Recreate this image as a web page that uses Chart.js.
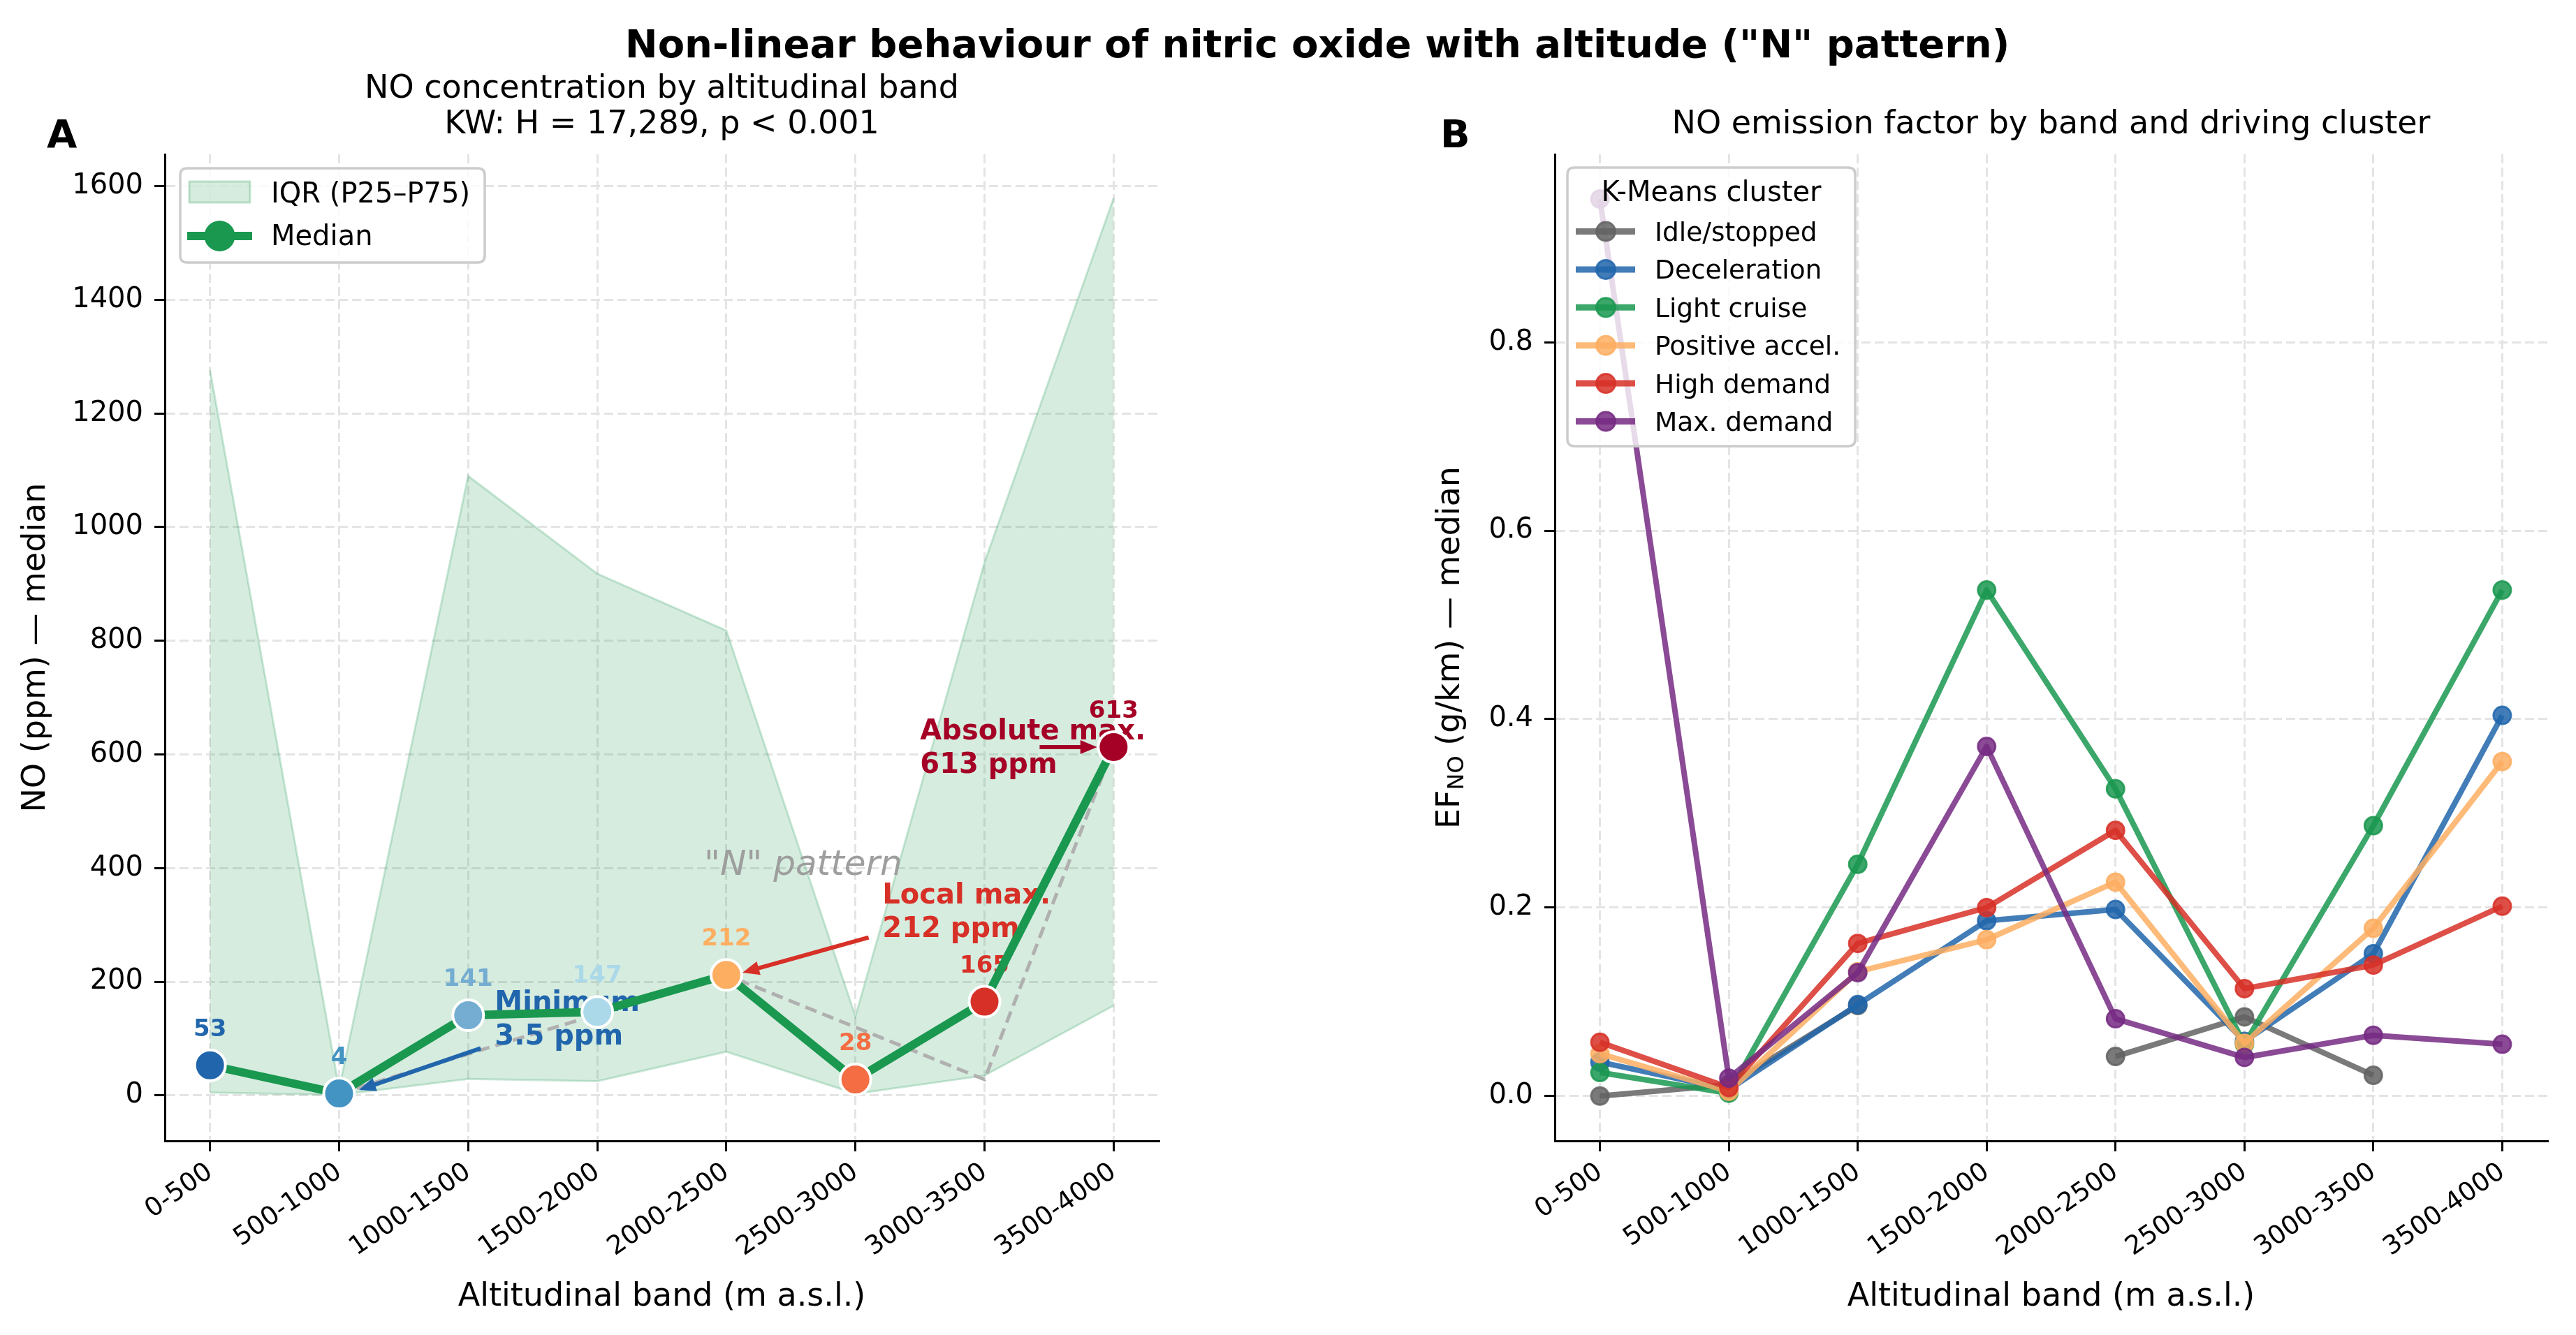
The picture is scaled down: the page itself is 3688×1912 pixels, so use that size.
<!DOCTYPE html>
<html>
<head>
<meta charset="utf-8">
<script src="https://cdn.jsdelivr.net/npm/chart.js@4.4.1/dist/chart.umd.min.js"></script>
<style>
  html, body { margin: 0; padding: 0; background: #fff; }
  #wrap { position: relative; width: 3688px; height: 1912px; }
  canvas { position: absolute; left: 0; top: 0; }
</style>
</head>
<body>
<div id="wrap">
  <canvas id="chartA" width="3688" height="1912"></canvas>
  <canvas id="chartB" width="3688" height="1912"></canvas>
</div>
<script>
const FONT = "'DejaVu Sans', sans-serif";

// Data
const bands = ['0-500', '500-1000', '1000-1500', '1500-2000', '2000-2500', '2500-3000', '3000-3500', '3500-4000'];
const noMedian = [53, 3.5, 141, 147, 212, 28, 165, 613];
const noP25 = [5, 1, 29, 25, 77, 3, 35, 158];
const noP75 = [1276, 12, 1090, 918, 818, 139, 938, 1579];
const bandColors = ['#2166ac', '#4393c3', '#74add1', '#abd9e9', '#fdae61', '#f46d43', '#d73027', '#a50026'];
const nPatternIdx = [1, 4, 6, 7];
const nPatternVal = [3.5, 212, 28, 613];
const noTicks = [0, 200, 400, 600, 800, 1000, 1200, 1400, 1600];

const clusters = ['Idle/stopped', 'Deceleration', 'Light cruise', 'Positive accel.', 'High demand', 'Max. demand'];
const clusterColors = ['#636363', '#2166ac', '#1a9850', '#fdae61', '#d73027', '#762a83'];
const efIdle = [0.0, 0.012, 0.096, null, 0.042, 0.084, 0.022, null];
const efDecel = [0.036, 0.007, 0.097, 0.186, 0.198, 0.058, 0.151, 0.404];
const efCruise = [0.025, 0.003, 0.246, 0.537, 0.326, 0.055, 0.287, 0.537];
const efPosAccel = [0.045, 0.005, 0.132, 0.166, 0.227, 0.056, 0.178, 0.355];
const efHigh = [0.057, 0.009, 0.162, 0.200, 0.282, 0.114, 0.139, 0.2015];
const efMax = [0.952, 0.019, 0.131, 0.371, 0.082, 0.041, 0.0645, 0.055];
const efTicks = [0, 0.2, 0.4, 0.6, 0.8];
const efSeries = [efIdle, efDecel, efCruise, efPosAccel, efHigh, efMax];

// Annotations on panel A (text anchor / arrow ends in data units)
const notes = [
  { lines: ['Minimum', '3.5 ppm'], color: '#2166ac', tx: 2.206, ty: 149, from: [2.097, 83], to: [1.154, 9.6] },
  { lines: ['Local max.', '212 ppm'], color: '#d73027', tx: 5.209, ty: 338, from: [5.102, 278], to: [4.125, 216] },
  { lines: ['Absolute max.', '613 ppm'], color: '#a50026', tx: 5.501, ty: 626, from: [6.427, 613], to: [6.872, 613] }
];

const rgba = (hex, a) => {
  const n = parseInt(hex.slice(1), 16);
  return `rgba(${n >> 16},${(n >> 8) & 255},${n & 255},${a})`;
};
const xy = arr => arr.map((v, i) => ({ x: i, y: v }));

function roundBox(ctx, x, y, w, h, r) {
  ctx.beginPath();
  ctx.moveTo(x + r, y);
  ctx.lineTo(x + w - r, y);
  ctx.quadraticCurveTo(x + w, y, x + w, y + r);
  ctx.lineTo(x + w, y + h - r);
  ctx.quadraticCurveTo(x + w, y + h, x + w - r, y + h);
  ctx.lineTo(x + r, y + h);
  ctx.quadraticCurveTo(x, y + h, x, y + h - r);
  ctx.lineTo(x, y + r);
  ctx.quadraticCurveTo(x, y, x + r, y);
  ctx.closePath();
}

function arrow(ctx, x1, y1, x2, y2, color) {
  const a = Math.atan2(y2 - y1, x2 - x1);
  const hl = 24, hw = 10;
  const c = Math.cos(a), s = Math.sin(a);
  ctx.strokeStyle = color;
  ctx.fillStyle = color;
  ctx.lineWidth = 6;
  ctx.beginPath();
  ctx.moveTo(x1, y1);
  ctx.lineTo(x2 - hl * c * 0.8, y2 - hl * s * 0.8);
  ctx.stroke();
  ctx.beginPath();
  ctx.moveTo(x2, y2);
  ctx.lineTo(x2 - hl * c + hw * s, y2 - hl * s - hw * c);
  ctx.lineTo(x2 - hl * c - hw * s, y2 - hl * s + hw * c);
  ctx.closePath();
  ctx.fill();
}

function scales(yMin, yMax, yTicks, yWidth, yFmt, yTitle) {
  const gridCommon = {
    color: '#e4e4e4', lineWidth: 3, tickColor: '#000', tickWidth: 3, tickLength: 15, tickBorderDash: []
  };
  return {
    x: {
      type: 'linear', min: -0.35, max: 7.35,
      afterBuildTicks: s => { s.ticks = bands.map((b, i) => ({ value: i })); },
      afterFit: s => { s.height = 278; s.paddingLeft = 0; s.paddingRight = 0; },
      ticks: {
        autoSkip: false, minRotation: 35, maxRotation: 35, padding: 8, color: '#000',
        font: { family: FONT, size: 37 },
        callback: v => bands[v]
      },
      grid: gridCommon,
      border: { display: true, color: '#000', width: 3, dash: [13, 6] },
      title: {
        display: true, text: 'Altitudinal band (m a.s.l.)', color: '#000',
        font: { family: FONT, size: 46 }, padding: { top: 0, bottom: 26 }
      }
    },
    y: {
      type: 'linear', min: yMin, max: yMax,
      afterBuildTicks: s => { s.ticks = yTicks.map(v => ({ value: v })); },
      afterFit: s => { s.width = yWidth; s.paddingTop = 0; s.paddingBottom = 0; },
      ticks: { padding: 16, color: '#000', font: { family: FONT, size: 40 }, callback: yFmt },
      grid: gridCommon,
      border: { display: true, color: '#000', width: 3, dash: [13, 6] },
      title: {
        display: !!yTitle, text: yTitle || '', color: '#000',
        font: { family: FONT, size: 46 }, padding: { top: 24, bottom: 0 }
      }
    }
  };
}

const panelA = {
  id: 'panelA',
  beforeDatasetDraw(chart, args) {
    if (args.index !== 3) return;
    const { ctx, scales: { x, y } } = chart;
    ctx.save();
    ctx.textAlign = 'center';
    ctx.textBaseline = 'alphabetic';
    ctx.font = `bold 34px ${FONT}`;
    noMedian.forEach((v, i) => {
      ctx.fillStyle = bandColors[i];
      ctx.fillText(String(Math.round(v)), x.getPixelForValue(i), y.getPixelForValue(v) - 42);
    });
    ctx.font = `italic 50px ${FONT}`;
    ctx.fillStyle = '#9e9e9e';
    ctx.fillText('"N" pattern', x.getPixelForValue(4.595), y.getPixelForValue(388));
    ctx.textAlign = 'left';
    ctx.font = `bold 40px ${FONT}`;
    notes.forEach(n => {
      ctx.fillStyle = n.color;
      n.lines.forEach((t, k) => ctx.fillText(t, x.getPixelForValue(n.tx), y.getPixelForValue(n.ty) + k * 48));
    });
    ctx.restore();
  },
  afterDatasetsDraw(chart) {
    const { ctx, scales: { x, y } } = chart;
    ctx.save();
    notes.forEach(n => arrow(ctx,
      x.getPixelForValue(n.from[0]), y.getPixelForValue(n.from[1]),
      x.getPixelForValue(n.to[0]), y.getPixelForValue(n.to[1]), n.color));
    ctx.restore();
  },
  afterDraw(chart) {
    const { ctx } = chart;
    ctx.save();
    // legend
    roundBox(ctx, 258, 241, 436, 135, 10);
    ctx.fillStyle = 'rgba(255,255,255,0.8)';
    ctx.fill();
    ctx.strokeStyle = '#cccccc';
    ctx.lineWidth = 3.5;
    ctx.stroke();
    ctx.fillStyle = 'rgba(26,152,80,0.18)';
    ctx.fillRect(271, 260, 87, 30);
    ctx.strokeStyle = 'rgba(26,152,80,0.25)';
    ctx.lineWidth = 3;
    ctx.strokeRect(271, 260, 87, 30);
    ctx.strokeStyle = '#1a9850';
    ctx.lineWidth = 12;
    ctx.beginPath(); ctx.moveTo(268, 338); ctx.lineTo(361, 338); ctx.stroke();
    ctx.fillStyle = '#1a9850';
    ctx.beginPath(); ctx.arc(314.5, 338, 22, 0, Math.PI * 2); ctx.fill();
    ctx.fillStyle = '#000';
    ctx.font = `40px ${FONT}`;
    ctx.textAlign = 'left';
    ctx.textBaseline = 'alphabetic';
    ctx.fillText('IQR (P25\u2013P75)', 388, 290);
    ctx.fillText('Median', 388, 351);
    // titles
    ctx.textAlign = 'center';
    ctx.font = `bold 56px ${FONT}`;
    ctx.fillText('Non-linear behaviour of nitric oxide with altitude ("N" pattern)', 1886, 82);
    ctx.font = `46px ${FONT}`;
    ctx.fillText('NO concentration by altitudinal band', 947.5, 140);
    ctx.fillText('KW: H = 17,289, p < 0.001', 947.5, 191);
    ctx.fillText('NO emission factor by band and driving cluster', 2936.5, 191);
    ctx.textAlign = 'left';
    ctx.font = `bold 56px ${FONT}`;
    ctx.fillText('A', 67, 211);
    ctx.fillText('B', 2062, 211);
    ctx.restore();
  }
};

const panelB = {
  id: 'panelB',
  afterDraw(chart) {
    const { ctx } = chart;
    ctx.save();
    // y title with subscript
    const parts = [
      { t: 'EF', f: `46px ${FONT}`, dy: 0 },
      { t: 'NO', f: `32px ${FONT}`, dy: 10 },
      { t: ' (g/km) \u2014 median', f: `46px ${FONT}`, dy: 0 }
    ];
    let total = 0;
    parts.forEach(p => { ctx.font = p.f; p.w = ctx.measureText(p.t).width; total += p.w; });
    ctx.translate(2077, 927.5);
    ctx.rotate(-Math.PI / 2);
    ctx.fillStyle = '#000';
    ctx.textAlign = 'left';
    ctx.textBaseline = 'middle';
    let cx = -total / 2;
    parts.forEach(p => { ctx.font = p.f; ctx.fillText(p.t, cx, p.dy); cx += p.w; });
    ctx.setTransform(1, 0, 0, 1, 0, 0);
    // legend
    roundBox(ctx, 2244, 240, 412, 399, 10);
    ctx.fillStyle = 'rgba(255,255,255,0.8)';
    ctx.fill();
    ctx.strokeStyle = '#cccccc';
    ctx.lineWidth = 3.5;
    ctx.stroke();
    ctx.fillStyle = '#000';
    ctx.textAlign = 'center';
    ctx.textBaseline = 'alphabetic';
    ctx.font = `40px ${FONT}`;
    ctx.fillText('K-Means cluster', 2450, 288);
    ctx.textAlign = 'left';
    ctx.font = `37.5px ${FONT}`;
    clusters.forEach((name, i) => {
      const yy = 331.5 + i * 54.4;
      const col = rgba(clusterColors[i], 0.85);
      ctx.strokeStyle = col;
      ctx.lineWidth = 9;
      ctx.beginPath(); ctx.moveTo(2256, yy); ctx.lineTo(2341, yy); ctx.stroke();
      ctx.fillStyle = col;
      ctx.lineWidth = 3;
      ctx.beginPath(); ctx.arc(2299, yy, 13.5, 0, Math.PI * 2); ctx.fill(); ctx.stroke();
      ctx.fillStyle = '#000';
      ctx.fillText(name, 2369, yy + 13.5);
    });
    ctx.restore();
  }
};

new Chart(document.getElementById('chartA'), {
  type: 'line',
  data: {
    datasets: [
      {
        data: xy(noP25), order: 5, borderColor: 'rgba(26,152,80,0.22)', borderWidth: 3,
        pointRadius: 0, fill: false, tension: 0
      },
      {
        data: xy(noP75), order: 4, borderColor: 'rgba(26,152,80,0.22)', borderWidth: 3,
        backgroundColor: 'rgba(26,152,80,0.18)', pointRadius: 0, fill: '-1', tension: 0
      },
      {
        data: nPatternIdx.map((v, i) => ({ x: v, y: nPatternVal[i] })), order: 3,
        borderColor: '#b0b0b0', borderWidth: 5, borderDash: [17, 9], pointRadius: 0, fill: false
      },
      {
        data: xy(noMedian), order: 1, borderColor: '#1a9850', borderWidth: 12, borderJoinStyle: 'round',
        pointRadius: 22, pointBackgroundColor: bandColors, pointBorderColor: '#ffffff', pointBorderWidth: 4,
        fill: false
      }
    ]
  },
  options: {
    responsive: false, animation: false, events: [],
    layout: { padding: { left: 0, top: 221, right: 3688 - 1659, bottom: 0 } },
    plugins: { legend: { display: false }, tooltip: { enabled: false } },
    scales: scales(-80, 1656, noTicks, 236, v => String(v), 'NO (ppm) \u2014 median')
  },
  plugins: [panelA]
});

new Chart(document.getElementById('chartB'), {
  type: 'line',
  data: {
    datasets: efSeries.map((arr, i) => ({
      label: clusters[i],
      data: xy(arr),
      order: efSeries.length - i,
      borderColor: rgba(clusterColors[i], 0.85),
      borderWidth: 8,
      borderJoinStyle: 'round',
      pointRadius: 12.5,
      pointBackgroundColor: rgba(clusterColors[i], 0.85),
      pointBorderColor: rgba(clusterColors[i], 0.85),
      pointBorderWidth: 3,
      fill: false,
      spanGaps: false
    }))
  },
  options: {
    responsive: false, animation: false, events: [],
    layout: { padding: { left: 2000, top: 221, right: 3688 - 3647, bottom: 0 } },
    plugins: { legend: { display: false }, tooltip: { enabled: false } },
    scales: scales(-0.0476, 0.9995, efTicks, 226, v => v.toFixed(1), null)
  },
  plugins: [panelB]
});
</script>
</body>
</html>
